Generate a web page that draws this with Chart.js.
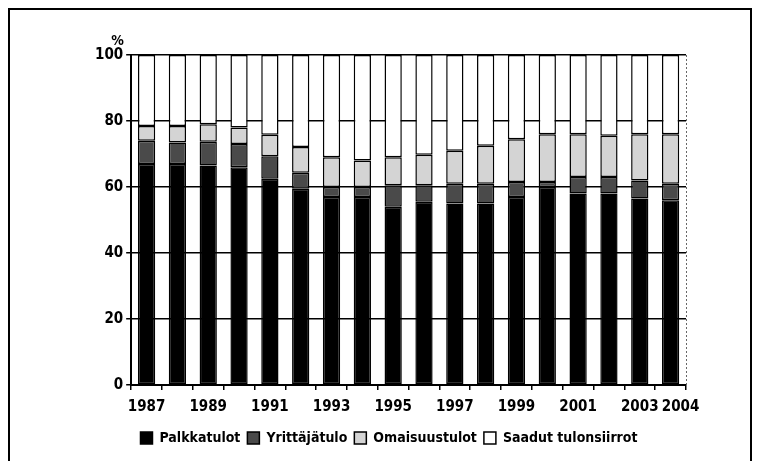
<!DOCTYPE html>
<html>
<head>
<meta charset="utf-8">
<script src="https://cdn.jsdelivr.net/npm/chart.js@4.4.1/dist/chart.umd.min.js"></script>
<style>
  html, body { margin: 0; padding: 0; background: #fff; }
  #frame { position: absolute; left: 8px; top: 8px; width: 744px; height: 460px; border-left: 2px solid #000; border-top: 2px solid #000; border-right: 2px solid #000; box-sizing: border-box; }
  #wrap { position: absolute; left: 0; top: 0; width: 761px; height: 461px; }
</style>
</head>
<body>
<div id="frame"></div>
<div id="wrap"><canvas id="chartIncome"></canvas></div>
<script>
const years = ['1987','1988','1989','1990','1991','1992','1993','1994','1995','1996','1997','1998','1999','2000','2001','2002','2003','2004']
const palkkatulot =   [67, 67, 66.5, 66, 62.5, 59.5, 57, 57, 54, 55.5, 55, 55, 57, 60, 58, 58, 56.5, 56]
const yrittajatulo =  [7, 6.5, 7.2, 7, 6.8, 4.8, 3, 3, 6.5, 5, 6, 6, 4.5, 1.5, 5, 5, 5.5, 5]
const omaisuustulot = [4.5, 5, 5.3, 5, 6.5, 7.8, 9, 8, 8.5, 9.3, 10, 11.5, 13, 14.5, 13, 12.5, 14, 15]
const tulonsiirrot =  [21.5, 21.5, 21, 22, 24.2, 27.9, 31, 32, 31, 30.2, 29, 27.5, 25.5, 24, 24, 24.5, 24, 24]
const shownYears = ['1987','1989','1991','1993','1995','1997','1999','2001','2003']
const lastYear = '2004'

const family = "'Liberation Sans Narrow', 'DejaVu Sans Condensed', sans-serif"
const tickFont = { family, size: 15, weight: 'bold' }
const legendFont = { family, size: 14, weight: 'bold' }

// % sign, the shifted last year label and the dotted right edge of the plot
const extras = {
    id: 'extras',
    afterDraw(chart) {
        const ctx = chart.ctx
        const a = chart.chartArea
        const x = chart.scales.x
        ctx.save()
        ctx.fillStyle = '#000'
        ctx.font = 'bold 14px ' + family
        ctx.textAlign = 'left'
        ctx.textBaseline = 'alphabetic'
        ctx.fillText('%', a.left - 20, a.top - 10)
        ctx.font = 'bold 15px ' + family
        ctx.textAlign = 'center'
        ctx.textBaseline = 'middle'
        ctx.fillText(lastYear, x.getPixelForValue(years.indexOf(lastYear)) + 10, a.bottom + 22)
        ctx.strokeStyle = '#666'
        ctx.lineWidth = 1
        ctx.setLineDash([2, 2])
        ctx.beginPath()
        ctx.moveTo(a.right + 0.5, a.top)
        ctx.lineTo(a.right + 0.5, a.bottom)
        ctx.stroke()
        ctx.restore()
    }
}

function makeSet(label, data, color) {
    return {
        label,
        data,
        backgroundColor: color,
        borderColor: '#000',
        borderWidth: 1.5,
        borderSkipped: false,
        barPercentage: 0.56,
        categoryPercentage: 1
    }
}

const data = {
    labels: years,
    datasets: [
        makeSet('Palkkatulot', palkkatulot, '#000'),
        makeSet('Yrittäjätulo', yrittajatulo, '#4a4a4a'),
        makeSet('Omaisuustulot', omaisuustulot, '#d4d4d4'),
        makeSet('Saadut tulonsiirrot', tulonsiirrot, '#fff')
    ]
}

const options = {
    responsive: true,
    maintainAspectRatio: false,
    animation: false,
    layout: { padding: { top: 55, left: 92, right: 75, bottom: 6 } },
    plugins: {
        legend: {
            position: 'bottom',
            labels: { color: '#000', font: legendFont, boxWidth: 12, boxHeight: 12, padding: 7 }
        },
        tooltip: { enabled: false }
    },
    scales: {
        x: {
            stacked: true,
            grid: { display: true, drawOnChartArea: false, color: '#000', tickLength: 5, lineWidth: 1.5 },
            border: { color: '#000', width: 2 },
            ticks: {
                color: '#000', font: tickFont, autoSkip: false, maxRotation: 0, padding: 8,
                callback: (v, i) => shownYears.includes(years[i]) ? years[i] : (years[i] === lastYear ? ' ' : '')
            }
        },
        y: {
            stacked: true,
            min: 0,
            max: 100,
            grid: { color: '#000', lineWidth: 1.5, tickLength: 5 },
            border: { color: '#000', width: 2 },
            ticks: { color: '#000', font: tickFont, stepSize: 20, padding: 3 }
        }
    }
}

new Chart('chartIncome', { type: 'bar', data, options, plugins: [extras] })
</script>
</body>
</html>
